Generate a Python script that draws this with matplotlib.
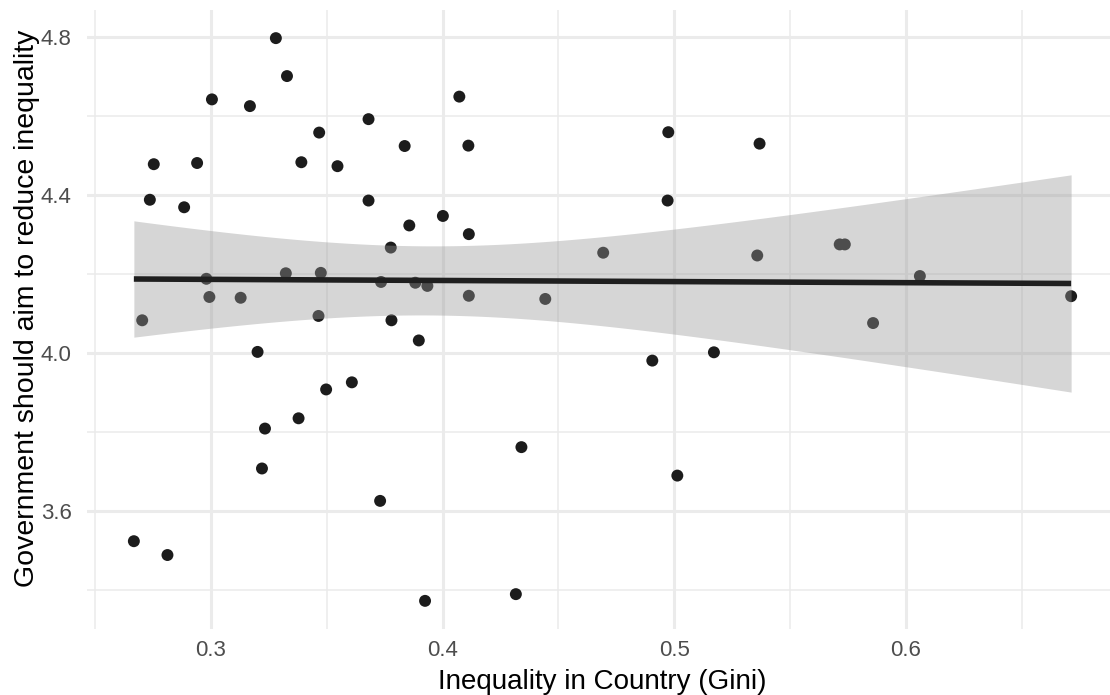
import numpy as np
import matplotlib
matplotlib.use("Agg")
import matplotlib.pyplot as plt
from matplotlib.ticker import MultipleLocator

# Country-level Gini index and mean agreement that government should reduce inequality
gini = [0.328, 0.3328, 0.3004, 0.3168, 0.368, 0.3467, 0.3836, 0.2753, 0.294, 0.339,
        0.3546, 0.2736, 0.2884, 0.368, 0.3856, 0.4001, 0.3776, 0.298, 0.3323, 0.3474,
        0.3734, 0.3882, 0.3934, 0.2993, 0.3128, 0.2703, 0.3464, 0.3779, 0.3897, 0.3201,
        0.3497, 0.3608, 0.3378, 0.3233, 0.322, 0.373, 0.2667, 0.2812, 0.3924, 0.4072,
        0.4111, 0.4974, 0.4971, 0.4113, 0.4693, 0.4113, 0.4443, 0.4905, 0.5171, 0.434,
        0.5013, 0.4316, 0.5368, 0.5358, 0.5714, 0.5736, 0.606, 0.5858, 0.6713]
support = [4.797, 4.701, 4.642, 4.625, 4.592, 4.558, 4.524, 4.478, 4.481, 4.483,
           4.473, 4.388, 4.369, 4.386, 4.323, 4.347, 4.267, 4.188, 4.202, 4.203,
           4.180, 4.178, 4.170, 4.142, 4.140, 4.083, 4.094, 4.083, 4.032, 4.003,
           3.908, 3.926, 3.835, 3.809, 3.708, 3.626, 3.524, 3.489, 3.373, 4.649,
           4.525, 4.559, 4.386, 4.301, 4.254, 4.145, 4.137, 3.981, 4.002, 3.762,
           3.690, 3.390, 4.530, 4.247, 4.275, 4.275, 4.195, 4.076, 4.144]

x_major = [0.3, 0.4, 0.5, 0.6]
y_major = [3.6, 4.0, 4.4, 4.8]

x = np.array(gini)
y = np.array(support)

# ordinary least squares with a 95% confidence band, like geom_smooth(method = "lm")
slope, intercept = np.polyfit(x, y, 1)
n = len(x)
resid = y - (intercept + slope * x)
s = np.sqrt(np.sum(resid ** 2) / (n - 2))
t_crit = 2.0025  # t quantile, 57 df
xs = np.linspace(x.min(), x.max(), 200)
fit = intercept + slope * xs
se = s * np.sqrt(1.0 / n + (xs - x.mean()) ** 2 / np.sum((x - x.mean()) ** 2))
lower = fit - t_crit * se
upper = fit + t_crit * se

W, H = 1110, 695
fig = plt.figure(figsize=(W / 100, H / 100), dpi=100)
plt.rcParams["font.family"] = ["Liberation Sans", "DejaVu Sans"]

# panel runs a bit past the right edge of the figure
left, right, top, bottom = 87, 1118, 10, 629
ax = fig.add_axes([left / W, (H - bottom) / H, (right - left) / W, (bottom - top) / H])

xpad = 0.05 * (x.max() - x.min())
ypad = 0.05 * (y.max() - y.min())
ax.set_xlim(x.min() - xpad, x.max() + xpad)
ax.set_ylim(y.min() - ypad, y.max() + ypad)

ax.set_xticks(x_major)
ax.set_yticks(y_major)
ax.xaxis.set_minor_locator(MultipleLocator(0.05))
ax.yaxis.set_minor_locator(MultipleLocator(0.2))
ax.set_xticklabels([f"{v:.1f}" for v in x_major])
ax.set_yticklabels([f"{v:.1f}" for v in y_major])

ax.grid(which="major", color="#EBEBEB", linewidth=2.2)
ax.grid(which="minor", color="#EBEBEB", linewidth=1.1)
ax.set_axisbelow(True)
for sp in ax.spines.values():
    sp.set_visible(False)
ax.tick_params(which="both", length=0)
ax.tick_params(axis="both", labelsize=16, labelcolor="#4D4D4D")
ax.tick_params(axis="x", pad=8)
ax.tick_params(axis="y", pad=11)

ax.scatter(x, y, s=74, color="#1c1c1c", edgecolors="none", zorder=2)
ax.fill_between(xs, lower, upper, color="#999999", alpha=0.4, linewidth=0, zorder=3)
ax.plot(xs, fit, color="#1f1f1f", linewidth=4, solid_capstyle="butt", zorder=4)

# axis titles placed in figure pixels
fig.text(602 / W, (H - 689) / H, "Inequality in Country (Gini)", fontsize=20,
         color="black", ha="center", va="baseline")
fig.text(27 / W, (H - 308) / H, "Government should aim to reduce inequality", fontsize=20.5,
         color="black", ha="center", va="center", rotation=90)

fig.savefig("out.png", dpi=100, facecolor="white")
